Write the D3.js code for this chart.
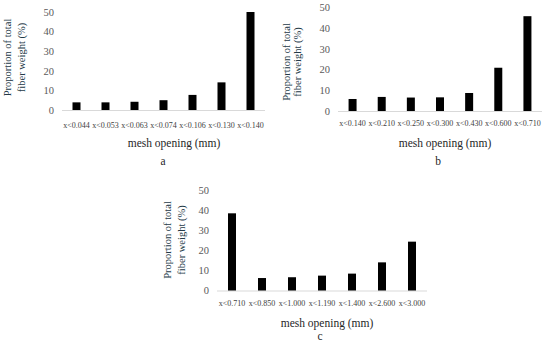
<!DOCTYPE html>
<html>
<head>
<meta charset="utf-8">
<script src="https://cdn.jsdelivr.net/npm/d3@7"></script>
<style>
html,body{margin:0;padding:0;background:#fff;}
svg{display:block;}
text{font-family:"Liberation Serif","Times New Roman",serif;}
</style>
</head>
<body>
<svg id="chart" width="550" height="348"></svg>
<script>
// ---- data ----
const categoriesA = ["x<0.044","x<0.053","x<0.063","x<0.074","x<0.106","x<0.130","x<0.140"];
const valuesA = [3.9, 3.9, 4.2, 5.0, 7.7, 14.1, 50];
const categoriesB = ["x<0.140","x<0.210","x<0.250","x<0.300","x<0.430","x<0.600","x<0.710"];
const valuesB = [5.8, 6.8, 6.5, 6.6, 8.7, 20.9, 45.8];
const categoriesC = ["x<0.710","x<0.850","x<1.000","x<1.190","x<1.400","x<2.600","x<3.000"];
const valuesC = [38.4, 6.2, 6.6, 7.4, 8.4, 14.0, 24.3];
const yTicks = [0, 10, 20, 30, 40, 50];
const xTitle = "mesh opening (mm)";
const yTitleLines = ["Proportion of total", "fiber weight (%)"];
const panelLetters = ["a", "b", "c"];

const svg = d3.select("#chart");

const panels = [
  {cats: categoriesA, vals: valuesA, letter: panelLetters[0],
   x0: 62, x1: 265, y0: 110, y50: 12, tickY: 128, titleY: 147, letterY: 165, titleX: 174, letterX: 163,
   yt1: 10.5, yt2: 24.5, ytC: 57.5},
  {cats: categoriesB, vals: valuesB, letter: panelLetters[1],
   x0: 338, x1: 542, y0: 111, y50: 7.5, tickY: 126, titleY: 147, letterY: 165, titleX: 445, letterX: 438,
   yt1: 289.5, yt2: 300.5, ytC: 62},
  {cats: categoriesC, vals: valuesC, letter: panelLetters[2],
   x0: 217, x1: 427, y0: 290.5, y50: 190, tickY: 306, titleY: 327, letterY: 340, titleX: 327, letterX: 320,
   yt1: 170.5, yt2: 184.5, ytC: 240}
];

panels.forEach(p => {
  const g = svg.append("g");
  const x = d3.scaleBand().domain(p.cats).range([p.x0, p.x1]).paddingInner(0.72).paddingOuter(0.36);
  const y = d3.scaleLinear().domain([0, 50]).range([p.y0, p.y50]);
  const barW = 8;

  // y tick labels (no axis line)
  const yAxis = d3.axisLeft(y).tickValues(yTicks).tickSize(0).tickPadding(0).tickFormat(d3.format("d"));
  const ya = g.append("g").attr("transform", `translate(${p.x0 - 8},0)`).call(yAxis);
  ya.select(".domain").remove();
  ya.selectAll("text").attr("font-size", 10.5).attr("fill", "#595959")
    .attr("font-family", "Liberation Serif, Times New Roman, serif");

  // x baseline
  g.append("line").attr("x1", p.x0).attr("x2", p.x1).attr("y1", y(0) + 0.5).attr("y2", y(0) + 0.5)
    .attr("stroke", "#d9d9d9").attr("stroke-width", 1);

  // bars
  g.selectAll("rect.bar").data(p.vals).enter().append("rect").attr("class", "bar")
    .attr("x", (d, i) => x(p.cats[i]) + x.bandwidth() / 2 - barW / 2)
    .attr("width", barW)
    .attr("y", d => y(d))
    .attr("height", d => y(0) - y(d))
    .attr("fill", "#000");

  // x tick labels
  g.selectAll("text.xt").data(p.cats).enter().append("text").attr("class", "xt")
    .attr("x", d => x(d) + x.bandwidth() / 2)
    .attr("y", p.tickY)
    .attr("text-anchor", "middle")
    .attr("font-size", 8)
    .attr("fill", "#404040")
    .text(d => d);

  // x title
  g.append("text").attr("x", p.titleX).attr("y", p.titleY).attr("text-anchor", "middle")
    .attr("font-size", 11.5).attr("fill", "#262626").text(xTitle);

  // panel letter
  g.append("text").attr("x", p.letterX).attr("y", p.letterY).attr("text-anchor", "middle")
    .attr("font-size", 11.5).attr("fill", "#262626").text(p.letter);

  // y title (two lines, rotated)
  [p.yt1, p.yt2].forEach((tx, i) => {
    g.append("text")
      .attr("transform", `translate(${tx},${p.ytC}) rotate(-90)`)
      .attr("text-anchor", "middle")
      .attr("font-size", 10.5)
      .attr("fill", "#243a48")
      .text(yTitleLines[i]);
  });
});
</script>
</body>
</html>
